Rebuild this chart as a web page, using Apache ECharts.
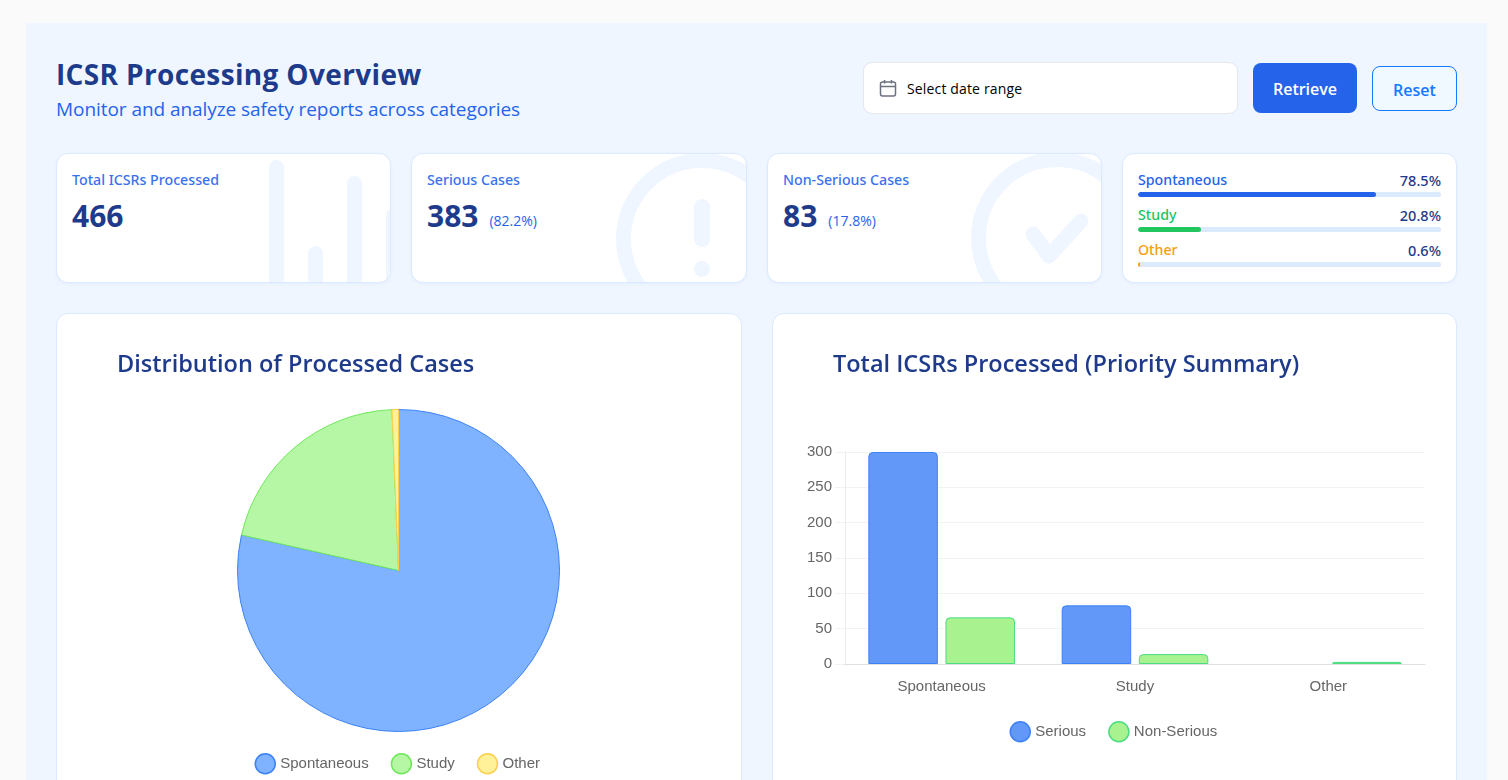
<!DOCTYPE html>
<html><head><meta charset="utf-8">
<script src="https://cdn.jsdelivr.net/npm/echarts@6/dist/echarts.min.js"></script>
<style>
html,body{margin:0;padding:0;width:1508px;height:780px;overflow:hidden;background:#fafafa;font-family:"Open Sans","Noto Sans",sans-serif}
*{box-sizing:border-box}
.abs{position:absolute}
#panel{left:26px;top:23px;width:1461px;height:900px;background:#eff6ff}
h1{position:absolute;left:56px;top:54px;margin:0;font-size:28px;line-height:40px;font-weight:700;color:#1e3a8a;letter-spacing:.35px;white-space:nowrap}
#sub{left:56px;top:95px;font-size:19px;line-height:28px;color:#2563eb;letter-spacing:-.06px;white-space:nowrap}
#date{left:863px;top:62px;width:375px;height:52px;background:#fff;border:1px solid #e5e7eb;border-radius:9px}
#date span{position:absolute;left:43px;top:16px;font-size:14px;line-height:20px;color:#000;letter-spacing:.15px;white-space:nowrap}
#date svg{position:absolute;left:15px;top:16px}
#ret{left:1253px;top:63px;width:104px;height:50px;background:#2563eb;border-radius:8px;color:#fff;font-size:16px;font-weight:600;text-align:center;line-height:52px}
#rst{left:1372px;top:66px;width:85px;height:45px;background:#eff9ff;border:1px solid #1677ff;border-radius:8px;color:#1677ff;font-size:16px;font-weight:600;text-align:center;line-height:46px}
.kpi{top:153px;height:130px;background:#fff;border:1px solid #dbeafe;border-radius:12px;overflow:hidden;box-shadow:0 1px 3px rgba(37,99,235,.06)}
.kpi svg{position:absolute;left:0;top:0}
.kl{position:absolute;left:15px;top:16px;font-family:"Noto Sans","Open Sans",sans-serif;font-size:14.2px;line-height:20px;color:#2563eb;opacity:.9;font-weight:500;white-space:nowrap}
.kv{position:absolute;left:15px;top:42px;font-size:30px;line-height:40px;font-weight:700;color:#1e3a8a;white-space:nowrap}
.kp{font-size:14px;font-weight:400;color:#2563eb;margin-left:11px;position:relative;top:-1px}
.pl{position:absolute;left:15px;font-family:"Noto Sans","Open Sans",sans-serif;font-size:14.2px;line-height:20px;font-weight:500}
.pr{position:absolute;right:15px;font-family:"Noto Sans","Open Sans",sans-serif;font-size:14.5px;line-height:20px;font-weight:500;color:#1e3a8a}
.tr{position:absolute;left:15px;width:303px;height:5px;background:#dbeafe;border-radius:3px;overflow:hidden}
.tr i{display:block;height:100%;border-radius:3px}
.card{top:313px;height:600px;background:#fff;border:1px solid #dbeafe;border-radius:12px}
</style></head><body>
<div id="panel" class="abs"></div>
<h1>ICSR Processing Overview</h1>
<div id="sub" class="abs">Monitor and analyze safety reports across categories</div>
<div id="date" class="abs"><svg width="18" height="18" viewBox="0 0 18 18" fill="none" stroke="#6b7280" stroke-width="1.5"><rect x="1.5" y="3" width="15" height="14" rx="2"/><path d="M1.5 7.5h15M5.5 1v3.5M12.5 1v3.5"/></svg><span>Select date range</span></div>
<div id="ret" class="abs">Retrieve</div>
<div id="rst" class="abs">Reset</div>
<div class="abs kpi" style="left:56px;width:335px"><svg width="335" height="130"><g stroke="#eff6ff" stroke-width="15" stroke-linecap="round"><path d="M219.500 13.500V150M258.500 99.500V150M297.500 29.500V150M336.500 61.500V150"/></g></svg><div class="kl" id="k1l"></div><div class="kv" id="k1v"></div></div>
<div class="abs kpi" style="left:411px;width:336px"><svg width="336" height="130" fill="none" stroke="#eff6ff"><circle cx="290" cy="85" r="78.5" stroke-width="15"/><path d="M290 53V85" stroke-width="16" stroke-linecap="round"/><circle cx="290" cy="115" r="8" fill="#eff6ff" stroke="none"/></svg><div class="kl" id="k2l"></div><div class="kv" id="k2v"></div></div>
<div class="abs kpi" style="left:767px;width:335px"><svg width="335" height="130" fill="none" stroke="#eff6ff"><circle cx="289" cy="84" r="78.5" stroke-width="15"/><path d="M265 80L281 102L313 67" stroke-width="15" stroke-linecap="round" stroke-linejoin="round"/></svg><div class="kl" id="k3l"></div><div class="kv" id="k3v"></div></div>
<div class="abs kpi" id="prog" style="left:1122px;width:335px"></div>
<div class="abs card" style="left:56px;width:686px"></div>
<div class="abs card" style="left:772px;width:685px"></div>
<div id="pie" class="abs" style="left:56px;top:313px;width:686px;height:467px"></div>
<div id="bar" class="abs" style="left:772px;top:313px;width:685px;height:467px"></div>
<script>
const categories=["Spontaneous","Study","Other"];
const seriousValues=[300,83,0];
const nonSeriousValues=[66,14,3];
const categoryTotals=[366,97,3];
const categoryShares=["78.5%","20.8%","0.6%"];
const shareNumbers=[78.5,20.8,0.6];
const shareColors=["#2563eb","#22c55e","#f59e0b"];
const kpiLabels=["Total ICSRs Processed","Serious Cases","Non-Serious Cases"];
const kpiValues=[466,383,83];
const kpiPercents=["","(82.2%)","(17.8%)"];
const yTicks={min:0,max:300,interval:50};
const titlePie="Distribution of Processed Cases";
const titleBar="Total ICSRs Processed (Priority Summary)";
const pieFill=["#80b3ff","#b5f7a5","#fff09a"];
const pieBorder=["#3b82f6","#6ee75a","#fbcf4a"];

kpiLabels.forEach((l,i)=>{
  document.getElementById('k'+(i+1)+'l').textContent=l;
  document.getElementById('k'+(i+1)+'v').innerHTML=kpiValues[i]+(kpiPercents[i]?'<span class="kp">'+kpiPercents[i]+'</span>':'');
});
document.getElementById('prog').innerHTML=categories.map((c,i)=>{
  const y=16+35*i;
  return `<div class="pl" style="top:${y}px;color:${shareColors[i]}">${c}</div><div class="pr" style="top:${y}px">${categoryShares[i]}</div><div class="tr" style="top:${y+22}px"><i style="width:${shareNumbers[i]}%;background:${shareColors[i]}"></i></div>`;
}).join('');

const titleStyle={fontFamily:'"Open Sans"',fontSize:23.5,fontWeight:600,color:'#1e3a8a'};
const legendText={fontFamily:'"Liberation Sans"',fontSize:15,color:'#666'};
const legendIcon={borderWidth:1.5};
const pie=echarts.init(document.getElementById('pie'));
pie.setOption({
  animation:false,
  title:{text:titlePie,left:61,top:40,padding:0,textStyle:titleStyle},
  legend:{left:198.5,top:440,padding:0,icon:'circle',itemWidth:20,itemHeight:20,itemGap:22,itemStyle:legendIcon,textStyle:legendText,data:categories},
  series:[{type:'pie',center:[342.5,257.5],radius:[0,161],startAngle:90,clockwise:true,label:{show:false},labelLine:{show:false},silent:true,
    data:categories.map((c,i)=>({name:c,value:categoryTotals[i],itemStyle:{color:pieFill[i],borderColor:pieBorder[i],borderWidth:1}}))}]
});
const bar=echarts.init(document.getElementById('bar'));
bar.setOption({
  animation:false,
  title:{text:titleBar,left:61,top:40,padding:0,textStyle:titleStyle},
  legend:{left:237.5,top:408,padding:0,icon:'circle',itemWidth:20,itemHeight:20,itemGap:22,itemStyle:legendIcon,textStyle:legendText,data:['Serious','Non-Serious']},
  grid:{left:73,right:32,top:139,height:212,containLabel:false},
  xAxis:{type:'category',data:categories,z:5,axisTick:{show:false},axisLine:{lineStyle:{color:'#e0e0e0',width:1}},axisLabel:{margin:15,fontFamily:'"Liberation Sans"',fontSize:15,color:'#666'},splitLine:{show:false}},
  yAxis:{type:'value',min:yTicks.min,max:yTicks.max,interval:yTicks.interval,axisLine:{show:true,lineStyle:{color:'#ececec'}},axisTick:{show:true,length:10,lineStyle:{color:'#f2f2f2'}},axisLabel:{margin:13,fontFamily:'"Liberation Sans"',fontSize:15,color:'#666'},splitLine:{lineStyle:{color:'#f3f3f3',width:1}}},
  series:[
    {name:'Serious',type:'bar',data:seriousValues.map(v=>v===0?'-':v),barWidth:69.5,barGap:'11%',itemStyle:{color:'#6298f8',borderColor:'#3b82f6',borderWidth:1,borderRadius:[4,4,0,0]}},
    {name:'Non-Serious',type:'bar',data:nonSeriousValues,barWidth:69.5,itemStyle:{color:'#a8f290',borderColor:'#4ade80',borderWidth:1,borderRadius:[4,4,0,0]}}
  ]
});
</script>
</body></html>
